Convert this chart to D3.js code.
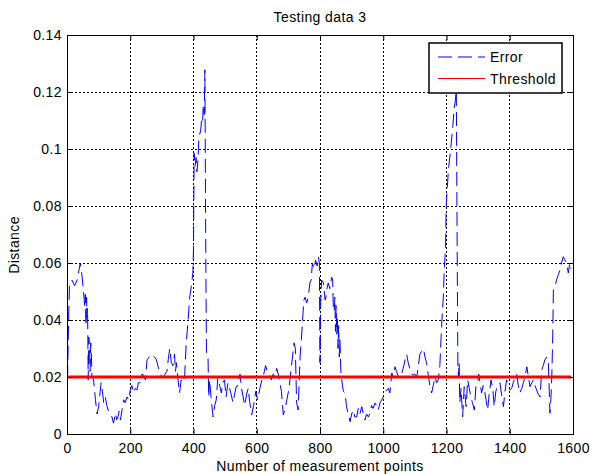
<!DOCTYPE html>
<html>
<head>
<meta charset="utf-8">
<script src="https://cdn.jsdelivr.net/npm/d3@7"></script>
<style>
  html, body { margin: 0; padding: 0; background: #fff; }
  svg { display: block; font-family: 'Liberation Sans', Arial, sans-serif; }
</style>
</head>
<body>
<div id="chart"></div>
<script>
// Testing data 3 - error distance vs threshold

const errorX = [
  0, 2, 5, 8, 16, 24, 32, 42, 47, 53, 56, 58, 60, 62, 63, 65, 66, 67, 69, 71,
  73, 75, 77, 79, 84, 90, 95, 100, 104, 108, 112, 116, 121, 126, 130, 137, 142, 147, 153, 157,
  161, 165, 169, 174, 179, 184, 190, 195, 200, 205, 211, 216, 221, 226, 232, 237, 242, 248, 253, 260,
  268, 277, 283, 288, 295, 304, 310, 316, 320, 325, 330, 335, 340, 343, 346, 350, 356, 361, 366, 372,
  377, 383, 388, 393, 398, 400, 402, 405, 408, 411, 414, 417, 423, 426, 429, 431, 434, 436, 439, 441,
  446, 448, 451, 456, 462, 467, 472, 477, 483, 488, 493, 498, 503, 509, 514, 518, 525, 530, 535, 541,
  547, 552, 557, 562, 568, 573, 578, 584, 590, 597, 603, 610, 616, 622, 628, 633, 640, 646, 652, 658,
  663, 668, 673, 678, 684, 690, 697, 702, 708, 713, 718, 722, 726, 731, 737, 741, 745, 749, 753, 758,
  763, 768, 772, 776, 781, 786, 791, 795, 798, 800, 802, 805, 811, 816, 819, 822, 826, 831, 837, 840,
  842, 845, 847, 849, 851, 853, 855, 857, 859, 861, 863, 866, 868, 871, 874, 879, 884, 889, 895, 900,
  905, 910, 916, 921, 926, 932, 937, 942, 947, 953, 958, 963, 968, 974, 979, 984, 990, 995, 1000, 1005,
  1011, 1016, 1021, 1027, 1032, 1037, 1042, 1048, 1053, 1058, 1063, 1069, 1074, 1079, 1085, 1090, 1095, 1100, 1106, 1111,
  1116, 1121, 1127, 1132, 1137, 1142, 1148, 1153, 1158, 1164, 1169, 1174, 1179, 1183, 1187, 1190, 1193, 1197, 1199, 1206,
  1213, 1220, 1224, 1228, 1231, 1234, 1236, 1238, 1240, 1242, 1246, 1251, 1256, 1262, 1267, 1272, 1277, 1282, 1288, 1293,
  1298, 1302, 1306, 1311, 1316, 1320, 1325, 1330, 1335, 1341, 1346, 1351, 1356, 1362, 1369, 1374, 1380, 1385, 1390, 1396,
  1401, 1406, 1411, 1417, 1422, 1427, 1432, 1438, 1443, 1448, 1454, 1459, 1464, 1470, 1475, 1480, 1485, 1490, 1496, 1501,
  1506, 1511, 1517, 1522, 1525, 1527, 1530, 1533, 1536, 1538, 1543, 1548, 1554, 1559, 1564, 1569, 1575, 1580, 1585, 1590,
  1594
];
const errorY = [
  0.030, 0.021, 0.040, 0.053, 0.054, 0.052, 0.054, 0.060, 0.056, 0.049, 0.045, 0.049, 0.038, 0.048, 0.041, 0.044, 0.033, 0.019, 0.034, 0.031,
  0.022, 0.032, 0.028, 0.020, 0.019, 0.012, 0.007, 0.0096, 0.014, 0.018, 0.015, 0.011, 0.013, 0.010, 0.0084, 0.0073, 0.006, 0.0038, 0.0073, 0.005,
  0.006, 0.008, 0.0049, 0.0084, 0.012, 0.011, 0.013, 0.012, 0.0154, 0.017, 0.0144, 0.016, 0.0154, 0.018, 0.018, 0.021, 0.0207, 0.019, 0.026, 0.027,
  0.028, 0.027, 0.026, 0.0236, 0.021, 0.0197, 0.021, 0.022, 0.026, 0.030, 0.025, 0.024, 0.028, 0.022, 0.025, 0.020, 0.0144, 0.019, 0.018, 0.020,
  0.032, 0.040, 0.048, 0.0517, 0.0565, 0.065, 0.0986, 0.094, 0.097, 0.092, 0.096, 0.104, 0.1067, 0.111, 0.110, 0.1155, 0.112, 0.1278, 0.060, 0.0284,
  0.027, 0.013, 0.019, 0.012, 0.006, 0.010, 0.012, 0.020, 0.017, 0.0144, 0.018, 0.019, 0.013, 0.018, 0.016, 0.0144, 0.011, 0.014, 0.0166, 0.017,
  0.021, 0.016, 0.013, 0.010, 0.014, 0.016, 0.011, 0.0067, 0.010, 0.015, 0.012, 0.016, 0.019, 0.021, 0.024, 0.022, 0.021, 0.019, 0.021, 0.020,
  0.023, 0.021, 0.018, 0.015, 0.0067, 0.009, 0.013, 0.016, 0.022, 0.027, 0.032, 0.030, 0.011, 0.0084, 0.027, 0.033, 0.040, 0.047, 0.048, 0.046,
  0.048, 0.053, 0.054, 0.060, 0.058, 0.061, 0.059, 0.0622, 0.060, 0.025, 0.045, 0.054, 0.053, 0.047, 0.048, 0.051, 0.053, 0.051, 0.055, 0.054,
  0.045, 0.043, 0.048, 0.036, 0.045, 0.035, 0.041, 0.030, 0.038, 0.027, 0.033, 0.022, 0.020, 0.017, 0.015, 0.0144, 0.0096, 0.007, 0.0043, 0.007,
  0.0084, 0.006, 0.006, 0.009, 0.007, 0.0096, 0.007, 0.0049, 0.007, 0.006, 0.0073, 0.010, 0.009, 0.0109, 0.010, 0.0084, 0.011, 0.012, 0.013, 0.014,
  0.0154, 0.016, 0.0144, 0.0214, 0.020, 0.0236, 0.022, 0.020, 0.021, 0.021, 0.023, 0.026, 0.028, 0.025, 0.0225, 0.021, 0.0207, 0.021, 0.020, 0.024,
  0.028, 0.029, 0.030, 0.027, 0.025, 0.021, 0.0166, 0.0144, 0.017, 0.020, 0.018, 0.019, 0.024, 0.034, 0.043, 0.048, 0.058, 0.065, 0.080, 0.0927,
  0.0997, 0.108, 0.114, 0.117, 0.1207, 0.060, 0.0236, 0.020, 0.025, 0.011, 0.016, 0.006, 0.0166, 0.0096, 0.019, 0.016, 0.013, 0.011, 0.0084, 0.0166,
  0.018, 0.021, 0.018, 0.0144, 0.017, 0.0154, 0.012, 0.0084, 0.014, 0.019, 0.016, 0.0096, 0.015, 0.017, 0.018, 0.014, 0.0096, 0.015, 0.019, 0.017,
  0.0154, 0.016, 0.018, 0.020, 0.021, 0.017, 0.0144, 0.016, 0.018, 0.020, 0.0236, 0.020, 0.0166, 0.018, 0.019, 0.017, 0.0154, 0.014, 0.013, 0.0225,
  0.024, 0.026, 0.027, 0.025, 0.015, 0.0073, 0.012, 0.020, 0.035, 0.0505, 0.052, 0.054, 0.056, 0.0576, 0.060, 0.0622, 0.061, 0.060, 0.0565, 0.060,
  0.058
];

// Threshold series
const thresholdX = [0, 1594];
const thresholdY = [0.02, 0.02];

// Axis ticks
const xTicks = [0, 200, 400, 600, 800, 1000, 1200, 1400, 1600];
const yTicks = [0, 0.02, 0.04, 0.06, 0.08, 0.1, 0.12, 0.14];
const yTickLabels = ['0', '0.02', '0.04', '0.06', '0.08', '0.1', '0.12', '0.14'];

const legendItems = ['Error', 'Threshold'];

const width = 590, height = 474;
const margin = { top: 35, right: 17, bottom: 40, left: 67 };
const innerW = width - margin.left - margin.right;
const innerH = height - margin.top - margin.bottom;
const fontSize = 14;

const svg = d3.select('#chart')
  .append('svg')
  .attr('width', width)
  .attr('height', height);

const x = d3.scaleLinear().domain([0, 1600]).range([0, innerW]);
const y = d3.scaleLinear().domain([0, 0.14]).range([innerH, 0]);

const g = svg.append('g')
  .attr('transform', `translate(${margin.left},${margin.top})`);

// Dotted grid
g.append('g')
  .selectAll('line')
  .data(xTicks)
  .enter().append('line')
  .attr('x1', d => x(d)).attr('x2', d => x(d))
  .attr('y1', 0).attr('y2', innerH)
  .attr('stroke', '#000')
  .attr('stroke-width', 1)
  .attr('stroke-dasharray', '2,2')
  .attr('shape-rendering', 'crispEdges');
g.append('g')
  .selectAll('line')
  .data(yTicks)
  .enter().append('line')
  .attr('x1', 0).attr('x2', innerW)
  .attr('y1', d => y(d)).attr('y2', d => y(d))
  .attr('stroke', '#000')
  .attr('stroke-width', 1)
  .attr('stroke-dasharray', '2,2')
  .attr('shape-rendering', 'crispEdges');

// Clip the series to the axes box
g.append('clipPath').attr('id', 'plot-clip')
  .append('rect').attr('width', innerW).attr('height', innerH);

const errorData = errorX.map((d, i) => [d, errorY[i]]);
const thresholdData = thresholdX.map((d, i) => [d, thresholdY[i]]);
const line = d3.line().x(d => x(d[0])).y(d => y(d[1]));

const plot = g.append('g').attr('clip-path', 'url(#plot-clip)');
plot.append('path')
  .datum(errorData)
  .attr('d', line)
  .attr('fill', 'none')
  .attr('stroke', '#0000ff')
  .attr('stroke-width', 1)
  .attr('stroke-dasharray', '14,6');
plot.append('path')
  .datum(thresholdData)
  .attr('d', line)
  .attr('fill', 'none')
  .attr('stroke', '#ff0000')
  .attr('stroke-width', 3);

// Axes, MATLAB style: ticks pointing inwards
g.append('g')
  .attr('transform', `translate(0,${innerH})`)
  .call(d3.axisBottom(x).tickValues(xTicks).tickFormat(d3.format('d'))
    .tickSizeInner(-5).tickSizeOuter(0).tickPadding(9));
g.append('g')
  .call(d3.axisLeft(y).tickValues(yTicks).tickFormat((d, i) => yTickLabels[i])
    .tickSizeInner(-5).tickSizeOuter(0).tickPadding(5));
g.append('g')
  .call(d3.axisTop(x).tickValues(xTicks).tickFormat('').tickSizeInner(-5).tickSizeOuter(0));
g.append('g')
  .attr('transform', `translate(${innerW},0)`)
  .call(d3.axisRight(y).tickValues(yTicks).tickFormat('').tickSizeInner(-5).tickSizeOuter(0));

g.selectAll('.domain').remove();
g.selectAll('.tick line').attr('stroke', '#000');
g.selectAll('.tick text')
  .attr('font-size', fontSize)
  .attr('font-family', "'Liberation Sans', Arial, sans-serif")
  .attr('fill', '#000')
  .style('letter-spacing', '0.4px');

// Box
g.append('rect')
  .attr('x', 0).attr('y', 0)
  .attr('width', innerW).attr('height', innerH)
  .attr('fill', 'none')
  .attr('stroke', '#000')
  .attr('stroke-width', 1)
  .attr('shape-rendering', 'crispEdges');

// Title and axis labels
svg.append('text')
  .attr('x', margin.left + innerW / 2)
  .attr('y', 22)
  .attr('text-anchor', 'middle')
  .attr('font-size', fontSize)
  .style('letter-spacing', '0.4px')
  .text('Testing data 3');
svg.append('text')
  .attr('x', margin.left + innerW / 2)
  .attr('y', 471)
  .attr('text-anchor', 'middle')
  .attr('font-size', fontSize)
  .style('letter-spacing', '0.4px')
  .text('Number of measurement points');
svg.append('text')
  .attr('transform', 'translate(19,245) rotate(-90)')
  .attr('text-anchor', 'middle')
  .attr('font-size', fontSize)
  .style('letter-spacing', '0.4px')
  .text('Distance');

// Legend
const legend = svg.append('g').attr('transform', 'translate(429,43)');
legend.append('rect')
  .attr('width', 133).attr('height', 50)
  .attr('fill', '#fff')
  .attr('stroke', '#000')
  .attr('stroke-width', 1.5);
legendItems.forEach((name, i) => {
  const ly = 14 + i * 21.5;
  legend.append('line')
    .attr('x1', 9).attr('x2', 56)
    .attr('y1', ly).attr('y2', ly)
    .attr('stroke', i === 0 ? '#0000ff' : '#ff0000')
    .attr('stroke-width', 1)
    .attr('stroke-dasharray', i === 0 ? '14,6' : null);
  legend.append('text')
    .attr('x', 61)
    .attr('y', ly + 5)
    .attr('font-size', fontSize)
    .style('letter-spacing', '0.4px')
    .text(name);
});
</script>
</body>
</html>
